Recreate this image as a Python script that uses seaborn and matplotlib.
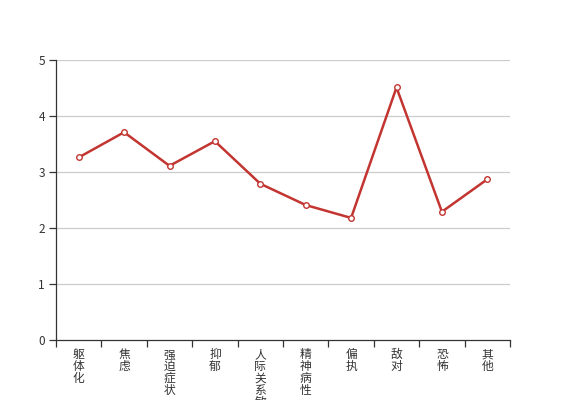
import matplotlib
matplotlib.use("Agg")
import matplotlib.pyplot as plt
import seaborn as sns
import pandas as pd
from matplotlib.ticker import FixedLocator

# factor names and mean scores
factors = ["躯体化", "焦虑", "强迫症状", "抑郁", "人际关系敏感", "精神病性", "偏执", "敌对", "恐怖", "其他"]
scores = [3.26, 3.71, 3.11, 3.55, 2.79, 2.41, 2.18, 4.51, 2.29, 2.87]
y_ticks = [0, 1, 2, 3, 4, 5]

sns.set_theme(style="white")
plt.rcParams["font.family"] = ["Noto Sans CJK SC", "DejaVu Sans"]

df = pd.DataFrame({"idx": range(len(factors)), "score": scores})

fig = plt.figure(figsize=(5.67, 4.0), dpi=100)
ax = fig.add_axes([56 / 567, 60 / 400, 454 / 567, 280 / 400])

sns.lineplot(
    data=df, x="idx", y="score", ax=ax,
    color="#c23531", linewidth=1.8,
    marker="o", markersize=4, markerfacecolor="white",
    markeredgecolor="#c23531", markeredgewidth=1,
)

ax.set_xlim(-0.5, len(factors) - 0.5)
ax.set_ylim(0, 5)
ax.set_yticks(y_ticks)
ax.set_yticklabels([str(t) for t in y_ticks], fontsize=8.5, color="#333333")
for t in y_ticks[1:]:
    ax.axhline(t, color="#cccccc", linewidth=0.9, zorder=0)

# ticks on the category boundaries, labels centred in each band
ax.xaxis.set_major_locator(FixedLocator([i - 0.5 for i in range(len(factors) + 1)]))
ax.xaxis.set_major_formatter(plt.NullFormatter())
ax.xaxis.set_minor_locator(FixedLocator(list(range(len(factors)))))
ax.set_xticklabels(["\n".join(f) for f in factors], minor=True,
                   fontsize=8.5, color="#333333", linespacing=0.88, va="top")
ax.tick_params(axis="x", which="major", length=5, width=0.9, color="#333333", direction="out", bottom=True)
ax.tick_params(axis="x", which="minor", length=0, pad=6)
ax.tick_params(axis="y", length=5, width=0.9, color="#333333", direction="out", left=True, pad=3)

ax.set_xlabel("")
ax.set_ylabel("")
for s in ["top", "right"]:
    ax.spines[s].set_visible(False)
for s in ["left", "bottom"]:
    ax.spines[s].set_color("#333333")
    ax.spines[s].set_linewidth(0.9)

fig.savefig("out.png", dpi=100)
